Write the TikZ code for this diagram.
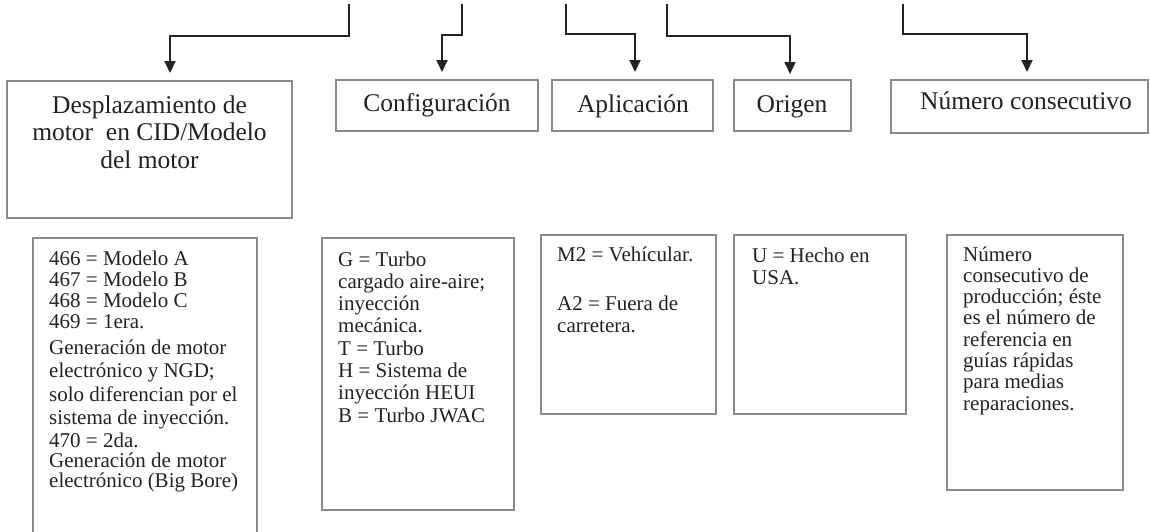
\documentclass[tikz,border=0pt]{standalone}
\usepackage{fontspec}
\setmainfont{Liberation Serif}
\usetikzlibrary{arrows.meta,calc}
\definecolor{boxgray}{HTML}{8A8A8A}
\definecolor{ink}{HTML}{222222}
\tikzset{
 boxst/.style={draw=boxgray, line width=2.6pt, inner sep=0pt, outer sep=0pt, anchor=north west},
 conn/.style={draw=ink, line width=1.8pt, -{Triangle[length=12pt,width=11pt]}},
 ttl/.style={font=\fontsize{25.5}{27}\selectfont, text=ink, inner sep=0pt, anchor=base},
 low/.style={font=\fontsize{21}{22}\selectfont, text=ink, inner sep=0pt, anchor=base west},
}
\begin{document}
\begin{tikzpicture}[x=1pt,y=-1pt]
\useasboundingbox (0,0) rectangle (1150,531);
\clip (0,0) rectangle (1150,531);
% top boxes
\node[boxst, minimum width=285pt, minimum height=137pt] (b1) at (7,81) {};
\node[boxst, minimum width=202pt, minimum height=51pt] (b2) at (336,80) {};
\node[boxst, minimum width=161pt, minimum height=51pt] (b3) at (552,80) {};
\node[boxst, minimum width=117pt, minimum height=51pt] (b4) at (734,80) {};
\node[boxst, minimum width=257pt, minimum height=53pt] (b5) at (891,80) {};
% lower boxes
\node[boxst, minimum width=224pt, minimum height=320pt] (d1) at (33,238) {};
\node[boxst, minimum width=192pt, minimum height=272pt] (d2) at (322,238) {};
\node[boxst, minimum width=175pt, minimum height=179pt] (d3) at (541,235) {};
\node[boxst, minimum width=172pt, minimum height=179pt] (d4) at (734,235) {};
\node[boxst, minimum width=176pt, minimum height=255pt] (d5) at (947,235) {};
% connectors
\coordinate (s1) at (349,4);
\coordinate (s2) at (462,4);
\coordinate (s3) at (566,4);
\coordinate (s4) at (667,4);
\coordinate (s5) at (903,4);
\coordinate (t1) at ([xshift=20.5pt,yshift=8pt]b1.north);
\coordinate (t2) at ([xshift=5pt,yshift=8pt]b2.north);
\coordinate (t3) at ([xshift=2.5pt,yshift=8pt]b3.north);
\coordinate (t4) at ([xshift=-2.5pt,yshift=6pt]b4.north);
\coordinate (t5) at ([xshift=7.5pt,yshift=8pt]b5.north);
\draw[conn] (s1) -- ++(0,32) -| (t1);
\draw[conn] (s2) -- ++(0,31) -| (t2);
\draw[conn] (s3) -- ++(0,30) -| (t3);
\draw[conn] (s4) -- ++(0,32) -| (t4);
\draw[conn] (s5) -- ++(0,30) -| (t5);
% titles
\node[ttl] (h1a) at (149.5,113) {Desplazamiento de};
\node[ttl] (h1b) at (149.5,140.5) {motor\ \ en CID/Modelo};
\node[ttl] (h1c) at (149.5,168) {del motor};
\node[ttl] (h2) at (437,111) {Configuración};
\node[ttl] (h3) at (633,112) {Aplicación};
\node[ttl] (h4) at (792,112) {Origen};
\node[ttl] (h5) at (1026,109) {Número consecutivo};
% lower texts box 1
\node[low] (p1a) at (49,265) {466 = Modelo A};
\node[low] (p1b) at (49,286) {467 = Modelo B};
\node[low] (p1c) at (49,307) {468 = Modelo C};
\node[low] (p1d) at (49,328) {469 = 1era.};
\node[low] (p1e) at (49,354) {Generación de motor};
\node[low] (p1f) at (49,377.5) {electrónico y NGD;};
\node[low] (p1g) at (49,401) {solo diferencian por el};
\node[low] (p1h) at (49,424.5) {sistema de inyección.};
\node[low] (p1i) at (49,447) {470 = 2da.};
\node[low] (p1j) at (49,467) {Generación de motor};
\node[low] (p1k) at (49,487) {electrónico (Big Bore)};
% box 2
\node[low] (p2a) at (338,266) {G = Turbo};
\node[low] (p2b) at (338,288.3) {cargado aire-aire;};
\node[low] (p2c) at (338,310.6) {inyección};
\node[low] (p2d) at (338,332.9) {mecánica.};
\node[low] (p2e) at (338,355.2) {T = Turbo};
\node[low] (p2f) at (338,377.5) {H = Sistema de};
\node[low] (p2g) at (338,399.8) {inyección HEUI};
\node[low] (p2h) at (338,422.1) {B = Turbo JWAC};
% box 3
\node[low] (p3a) at (557,261) {M2 = Vehícular.};
\node[low] (p3b) at (557,310) {A2 = Fuera de};
\node[low] (p3c) at (557,332) {carretera.};
% box 4
\node[low] (p4a) at (752,262) {U = Hecho en};
\node[low] (p4b) at (752,284) {USA.};
% box 5
\node[low] (p5a) at (963,261) {Número};
\node[low] (p5b) at (963,282.3) {consecutivo de};
\node[low] (p5c) at (963,303.6) {producción; éste};
\node[low] (p5d) at (963,324.9) {es el número de};
\node[low] (p5e) at (963,346.2) {referencia en};
\node[low] (p5f) at (963,367.5) {guías rápidas};
\node[low] (p5g) at (963,388.8) {para medias};
\node[low] (p5h) at (963,410.1) {reparaciones.};
\end{tikzpicture}
\end{document}
